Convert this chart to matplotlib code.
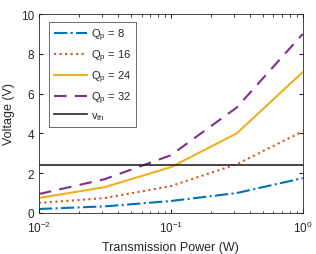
import numpy as np
import matplotlib
matplotlib.use("Agg")
import matplotlib.pyplot as plt

plt.rcParams['font.family'] = ['Liberation Sans', 'DejaVu Sans']

power = [0.01, 0.0316, 0.1, 0.316, 1.0]
v_q8 = [0.2, 0.33, 0.6, 1.0, 1.75]
v_q16 = [0.5, 0.75, 1.35, 2.45, 4.1]
v_q24 = [0.75, 1.3, 2.3, 4.0, 7.08]
v_q32 = [0.95, 1.7, 2.9, 5.3, 9.0]
v_th = 2.4

fig = plt.figure(figsize=(3.16, 2.55), dpi=100)
ax = fig.add_axes([0.123, 0.161, 0.835, 0.78])

tc = '#262626'
ax.plot(power, v_q8, '-.', color='#0072BD', lw=1.5, label='Q$_\\mathregular{p}$ = 8')
ax.plot(power, v_q16, ':', color='#D95319', lw=1.5, label='Q$_\\mathregular{p}$ = 16')
ax.plot(power, v_q24, '-', color='#EDB120', lw=1.5, label='Q$_\\mathregular{p}$ = 24')
ax.plot(power, v_q32, '--', color='#7E2F8E', lw=1.5, dashes=(6, 4), label='Q$_\\mathregular{p}$ = 32')
ax.axhline(v_th, color='#262626', lw=1.2, label='v$_\\mathregular{th}$')

ax.set_xscale('log')
ax.set_xlim(0.01, 1)
ax.set_ylim(0, 10)
ax.set_yticks([0, 2, 4, 6, 8, 10])
ax.tick_params(which='both', direction='in', top=True, right=True, colors=tc, labelsize=8.5)
ax.tick_params(which='major', length=3)
ax.tick_params(which='minor', length=1.8)
ax.tick_params(axis='x', pad=5)
for s in ax.spines.values():
    s.set_color(tc)
    s.set_linewidth(0.6)
ax.set_xlabel('Transmission Power (W)', color=tc, fontsize=9)
ax.set_ylabel('Voltage (V)', color=tc, fontsize=9)

leg = ax.legend(loc='upper left', fontsize=8, frameon=True, fancybox=False,
                edgecolor=tc, handlelength=3.0, handletextpad=0.35,
                borderpad=0.45, labelspacing=0.4, borderaxespad=0,
                bbox_to_anchor=(0.038, 0.962))
leg.get_frame().set_linewidth(0.6)
for t in leg.get_texts():
    t.set_color(tc)

fig.savefig('out.png', dpi=100)
